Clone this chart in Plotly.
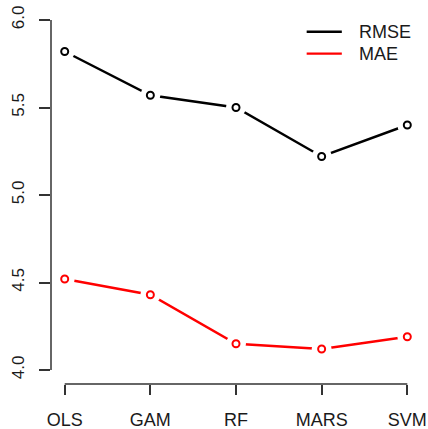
import plotly.graph_objects as go

# Model comparison: error metrics per method
models = ["OLS", "GAM", "RF", "MARS", "SVM"]
rmse = [5.82, 5.57, 5.50, 5.22, 5.40]
mae = [4.52, 4.43, 4.15, 4.12, 4.19]
y_ticks = [4.0, 4.5, 5.0, 5.5, 6.0]
y_tick_labels = ["4.0", "4.5", "5.0", "5.5", "6.0"]

x_pos = list(range(1, len(models) + 1))
font_family = "Liberation Sans, Arial, sans-serif"
text_color = "#1a1a1a"
axis_color = "#333333"

series = [("RMSE", rmse, "black"), ("MAE", mae, "red")]

fig = go.Figure()

# connecting lines (base y axis)
for name, vals, col in series:
    fig.add_trace(go.Scatter(
        x=x_pos, y=vals, mode="lines", name=name, yaxis="y",
        line=dict(color=col, width=2.4), showlegend=False,
    ))

# white halos so lines stop short of each point (overlay axis, drawn above lines)
for name, vals, col in series:
    fig.add_trace(go.Scatter(
        x=x_pos, y=vals, mode="markers", yaxis="y2", showlegend=False, hoverinfo="skip",
        marker=dict(symbol="circle", size=20, color="white",
                    line=dict(width=0, color="white")),
    ))

# open circle points
for name, vals, col in series:
    fig.add_trace(go.Scatter(
        x=x_pos, y=vals, mode="markers", yaxis="y2", showlegend=False, name=name,
        marker=dict(symbol="circle-open", size=7, color=col, line=dict(width=2, color=col)),
    ))

# axis lines spanning only the tick range
shape_line = dict(color=axis_color, width=1.5)
fig.add_shape(type="line", xref="paper", yref="y", x0=0, x1=0,
              y0=min(y_ticks), y1=max(y_ticks), line=shape_line)
fig.add_shape(type="line", xref="x", yref="paper", x0=min(x_pos), x1=max(x_pos),
              y0=0, y1=0, line=shape_line)

# legend: short line sample plus label for each series
legend_x0, legend_x1, legend_text_x = 0.691, 0.786, 0.826
legend_y0, legend_dy = 0.932, 0.058
for i, (name, vals, col) in enumerate(series):
    ly = legend_y0 - i * legend_dy
    fig.add_shape(type="line", xref="paper", yref="paper",
                  x0=legend_x0, x1=legend_x1, y0=ly, y1=ly,
                  line=dict(color=col, width=2.4))
    fig.add_annotation(xref="paper", yref="paper", x=legend_text_x, y=ly,
                       text=name, showarrow=False, xanchor="left", yanchor="middle",
                       font=dict(size=18, color=text_color))

pad_x = 0.04 * (max(x_pos) - min(x_pos))
pad_y = 0.04 * (max(y_ticks) - min(y_ticks))
y_range = [min(y_ticks) - pad_y, max(y_ticks) + pad_y]

fig.update_layout(
    width=428, height=429,
    margin=dict(l=51, r=7, t=6, b=45, autoexpand=False),
    paper_bgcolor="white", plot_bgcolor="white",
    font=dict(family=font_family, size=18, color=text_color),
    showlegend=False,
    xaxis=dict(
        range=[min(x_pos) - pad_x, max(x_pos) + pad_x],
        tickmode="array", tickvals=x_pos, ticktext=models,
        showgrid=False, zeroline=False, showline=False, automargin=False,
        ticks="outside", ticklen=10, tickwidth=1.5, tickcolor=axis_color,
        ticklabelstandoff=9, tickfont=dict(size=18),
    ),
    yaxis=dict(
        range=y_range,
        tickmode="array", tickvals=y_ticks, ticktext=y_tick_labels,
        tickangle=-90,
        showgrid=False, zeroline=False, showline=False, automargin=False,
        ticks="outside", ticklen=11, tickwidth=1.5, tickcolor=axis_color,
        ticklabelstandoff=8, tickfont=dict(size=17),
    ),
    yaxis2=dict(
        range=y_range, overlaying="y", visible=False,
        showgrid=False, zeroline=False,
    ),
)

fig.write_html("out.html")
